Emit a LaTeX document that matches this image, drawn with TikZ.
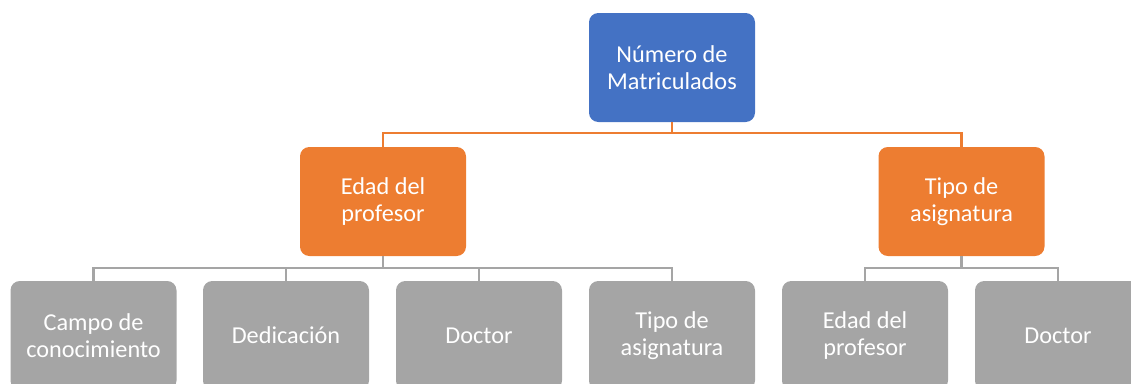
\documentclass[tikz,border=0pt]{standalone}
\usepackage{fontspec}
\setmainfont{Carlito}
\definecolor{boxblue}{HTML}{4472C4}
\definecolor{boxorange}{HTML}{ED7D31}
\definecolor{boxgray}{HTML}{A5A5A5}
\tikzset{
  box/.style={rounded corners=7pt, minimum width=124.5pt, minimum height=81.75pt,
    align=center, text=white, font=\fontsize{18.2}{20}\selectfont, inner sep=2pt},
  rootbox/.style={box, fill=boxblue},
  midbox/.style={box, fill=boxorange},
  leafbox/.style={box, fill=boxgray},
  orangeline/.style={draw=boxorange, line width=1.8pt},
  grayline/.style={draw=boxgray, line width=1.8pt}
}
\begin{document}
\begin{tikzpicture}[x=0.75pt, y=-0.75pt]
        % Frame
        \useasboundingbox (0,0) rectangle (1131,383);
        \clip (0,0) rectangle (1131,383);

        % Boxes
        \node[rootbox] (root) at (672,67.5) {Número de\\Matriculados};
        \node[midbox] (edad) at (383,201.5) {Edad del\\profesor};
        \node[midbox] (tipo) at (961.5,201.5) {Tipo de\\asignatura};
        \node[leafbox] (campo) at (93.5,335.5) {Campo de\\conocimiento};
        \node[leafbox] (dedic) at (286,335.5) {Dedicación};
        \node[leafbox] (doctA) at (479,335.5) {Doctor};
        \node[leafbox] (tipoA) at (672,335.5) {Tipo de\\asignatura};
        \node[leafbox] (edadB) at (865,335.5) {Edad del\\profesor};
        \node[leafbox] (doctB) at (1058,335.5) {Doctor};

        % Connectors
        \draw[orangeline] (root.south) -- ++(0,11) -| (edad.north);
        \draw[orangeline] (root.south) -- ++(0,11) -| (tipo.north);
        \foreach \leaf in {campo,dedic,doctA,tipoA}
          \draw[grayline] (edad.south) -- ++(0,12) -| (\leaf.north);
        \foreach \leaf in {edadB,doctB}
          \draw[grayline] (tipo.south) -- ++(0,12) -| (\leaf.north);
      \end{tikzpicture}
\end{document}
